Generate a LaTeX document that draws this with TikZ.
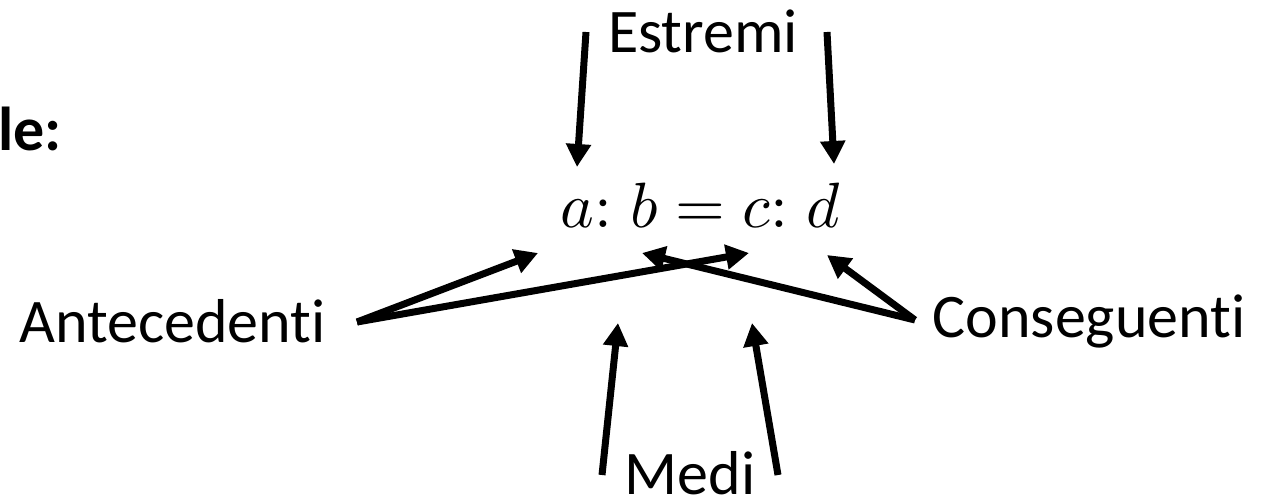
\documentclass[tikz,border=0pt]{standalone}
\usepackage{fontspec}
\usepackage{graphicx}
\setmainfont{Carlito}[Ligatures=NoCommon]
\usetikzlibrary{arrows.meta}
\tikzset{
  lbl/.style={inner sep=0pt, font=\fontsize{62}{74}\selectfont},
  arr/.style={line width=7pt, -{Triangle[length=23pt,width=24pt]}}
}
\begin{document}
\begin{tikzpicture}[x=1pt,y=-1pt]
\useasboundingbox (0,0) rectangle (1263,498);
\node[lbl, anchor=base east, font=\fontsize{62}{74}\selectfont\bfseries] (le) at (62,150) {le:};
\node[lbl, anchor=base] (est) at (703,52) {Estremi};
\node[inner sep=0pt, anchor=base] (eq) at (700,227) {\scalebox{6.4}{$a{:}\;b = c{:}\;d$}};
\node[lbl, anchor=base] (ant) at (172.5,342) {Antecedenti};
\node[lbl, anchor=base] (con) at (1089,337) {Conseguenti};
\node[lbl, anchor=base] (med) at (690,494) {Medi};
% free ends
\coordinate (e1s) at (586,32);  \coordinate (e1t) at (577,167);
\coordinate (e2s) at (827,32);  \coordinate (e2t) at (834,164);
\coordinate (as) at (357,322);
\coordinate (a1t) at (538,253); \coordinate (a2t) at (749,253);
\coordinate (cs) at (915,320);
\coordinate (c1t) at (642,253); \coordinate (c2t) at (827,255);
\coordinate (m1s) at (602,475); \coordinate (m1t) at (618,323);
\coordinate (m2s) at (778,475); \coordinate (m2t) at (752,323);
\draw[arr] (e1s) -- (e1t);
\draw[arr] (e2s) -- (e2t);
\draw[arr] (as) -- (a1t);
\draw[arr] (as) -- (a2t);
\draw[arr] (cs) -- (c1t);
\draw[arr] (cs) -- (c2t);
\draw[arr] (m1s) -- (m1t);
\draw[arr] (m2s) -- (m2t);
\end{tikzpicture}
\end{document}
